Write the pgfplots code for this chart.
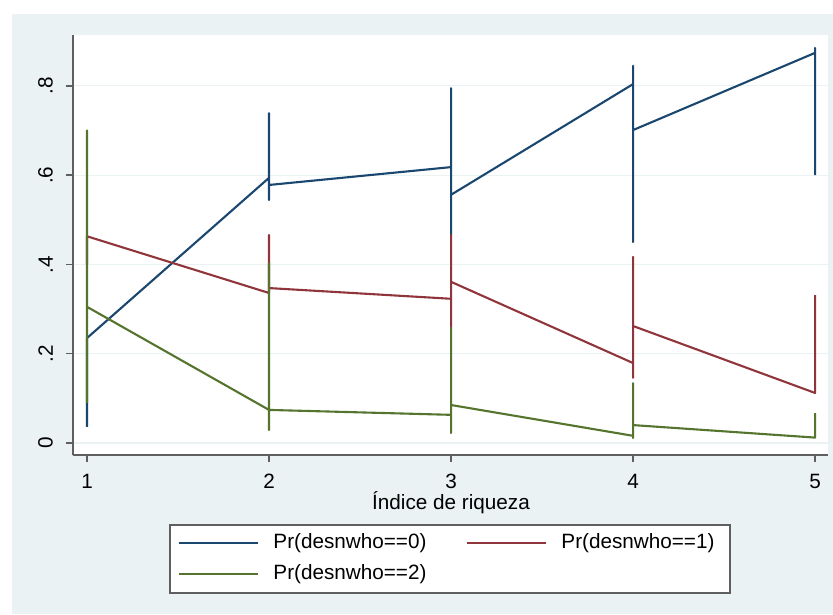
\documentclass[border=0pt]{standalone}
\usepackage{pgfplots}
\pgfplotsset{compat=1.18}
\usepackage{fontspec}
\setmainfont{Liberation Sans}
\definecolor{bgc}{RGB}{234,242,243}
\definecolor{s2navy}{RGB}{26,71,111}
\definecolor{s2maroon}{RGB}{144,53,59}
\definecolor{s2green}{RGB}{85,117,47}
\definecolor{axc}{RGB}{95,95,95}
\begin{document}
\begin{tikzpicture}[x=1pt,y=1pt]
\path[use as bounding box] (0,0) rectangle (833,614);
\fill[bgc] (12,0) rectangle (833,600);
\begin{axis}[
  at={(73pt,159pt)}, anchor=south west,
  scale only axis, width=755pt, height=420pt,
  xmin=0.923, xmax=5.071, ymin=-0.027, ymax=0.914,
  axis x line*=bottom, axis y line*=left,
  axis line style={axc, line width=1.4pt, -},
  axis background/.style={fill=white},
  xtick={1,2,3,4,5}, xticklabels={1,2,3,4,5},
  ytick={0,0.2,0.4,0.6,0.8}, yticklabels={0,.2,.4,.6,.8},
  tick align=outside, major tick length=7pt,
  tick style={axc, line width=1.4pt},
  ymajorgrids, grid style={bgc, line width=1.2pt},
  /pgf/number format/assume math mode=true,
  font=\fontsize{20.7}{24}\selectfont,
  xticklabel style={inner sep=0pt, anchor=north},
  yticklabel style={rotate=90, anchor=south, inner sep=0pt},
  xticklabel shift=12pt,
  yticklabel shift=13pt,
  xlabel={Índice de riqueza},
  xlabel style={at={(axis description cs:0.5007,-0.1286)}, anchor=base, inner sep=0pt},
  legend columns=2,
  legend style={at={(axis description cs:0.4993,-0.2476)}, anchor=center,
    draw=axc, line width=1.4pt, fill=white,
    inner xsep=8.4pt, inner ysep=9pt,
    nodes={inner sep=0pt, text height=15pt, text depth=4pt, anchor=west},
    row sep=12pt,
    /tikz/every odd column/.append style={column sep=14pt},
    font=\fontsize{20.7}{24}\selectfont},
  legend image code/.code={\draw[#1, line width=2pt] (0pt,0pt) -- (79pt,0pt);},
  every axis plot/.append style={line width=2.1pt, no markers, line join=round},
]
\addplot[s2navy] coordinates {
 (1,0.036) (1,0.235)
 (2,0.594) (2,0.739) (2,0.544) (2,0.578)
 (3,0.618) (3,0.795) (3,0.466) (3,0.556)
 (4,0.804) (4,0.845) (4,0.450) (4,0.701)
 (5,0.874) (5,0.885) (5,0.600)
};
\addlegendentry{\makebox[193pt][l]{Pr(desnwho==0)}}
\addplot[s2maroon] coordinates {
 (1,0.40) (1,0.463)
 (2,0.336) (2,0.466) (2,0.40) (2,0.347)
 (3,0.323) (3,0.466) (3,0.258) (3,0.361)
 (4,0.179) (4,0.146) (4,0.417) (4,0.262)
 (5,0.112) (5,0.331)
};
\addlegendentry{\makebox[160pt][l]{Pr(desnwho==1)}}
\addplot[s2green] coordinates {
 (1,0.09) (1,0.70) (1,0.305)
 (2,0.074) (2,0.403) (2,0.029) (2,0.074)
 (3,0.063) (3,0.258) (3,0.022) (3,0.085)
 (4,0.016) (4,0.011) (4,0.134) (4,0.040)
 (5,0.012) (5,0.067)
};
\addlegendentry{\makebox[193pt][l]{Pr(desnwho==2)}}
\end{axis}
\end{tikzpicture}
\end{document}
